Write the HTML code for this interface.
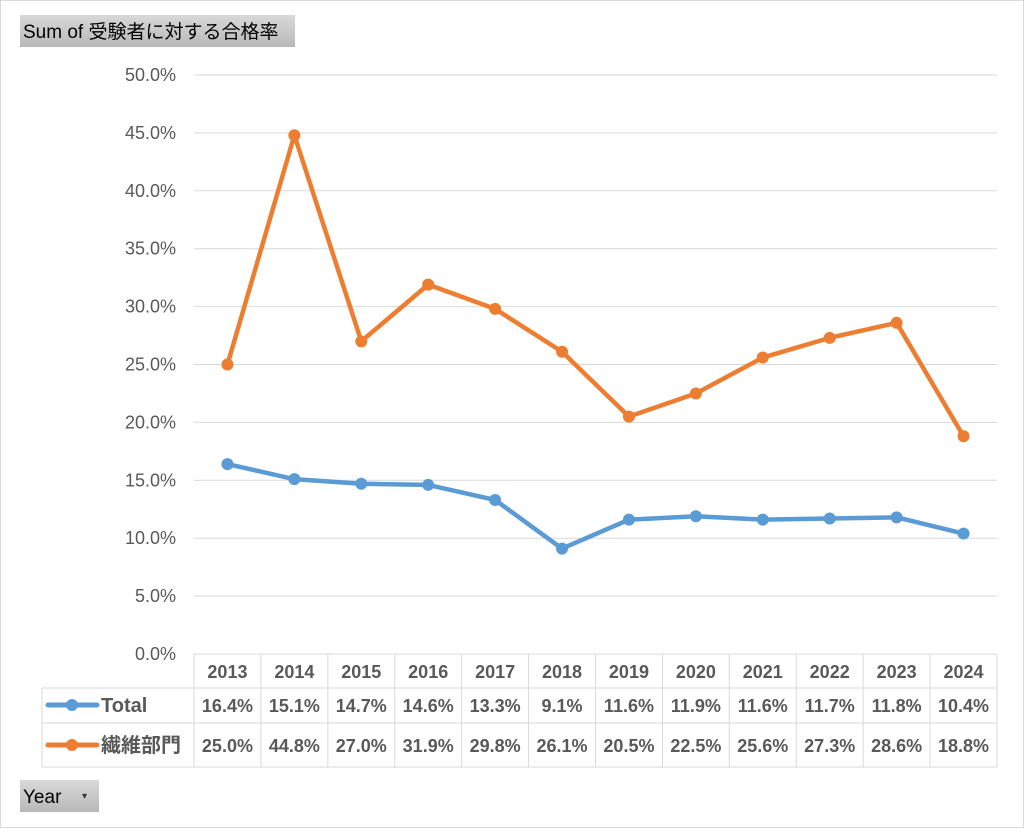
<!DOCTYPE html>
<html><head><meta charset="utf-8"><style>
body{margin:0;background:#fff;}
svg text{font-family:"Liberation Sans","Noto Sans CJK JP",sans-serif;}
</style></head><body>
<svg width="1024" height="828" xmlns="http://www.w3.org/2000/svg">
<defs><linearGradient id="g" x1="0" y1="0" x2="0" y2="1"><stop offset="0" stop-color="#d9d9d9"/><stop offset="1" stop-color="#b8b8b8"/></linearGradient></defs>
<rect x="0.5" y="0.5" width="1023" height="827" fill="#fff" stroke="#d9d9d9"/>
<g><rect x="20" y="15" width="275" height="32" fill="url(#g)"/><text x="23" y="38" font-size="19" fill="#000">Sum of 受験者に対する合格率</text></g>
<g><rect x="20" y="780" width="79" height="32" fill="url(#g)"/><text x="23" y="803" font-size="19" fill="#000">Year</text><text x="82" y="799" font-size="10" fill="#333">▾</text></g>
<g id="grid"></g><g id="tbl"></g><g id="series"></g>
</svg>
<script>
const years=["2013","2014","2015","2016","2017","2018","2019","2020","2021","2022","2023","2024"];
const totalVals=[16.4,15.1,14.7,14.6,13.3,9.1,11.6,11.9,11.6,11.7,11.8,10.4];
const textileVals=[25.0,44.8,27.0,31.9,29.8,26.1,20.5,22.5,25.6,27.3,28.6,18.8];
const yTicks=[0,5,10,15,20,25,30,35,40,45,50];
const NS="http://www.w3.org/2000/svg";
const x0=194,x1=997,y0=654,y1=75,cw=(x1-x0)/years.length;
const X=i=>x0+cw*(i+0.5), Y=v=>y0-(v/50)*(y0-y1);
function mk(t,a,p){const e=document.createElementNS(NS,t);for(const k in a)e.setAttribute(k,a[k]);p.appendChild(e);return e;}
const grid=document.getElementById('grid'),tbl=document.getElementById('tbl'),ser=document.getElementById('series');
yTicks.forEach(v=>{
 if(v>0){const l=mk('line',{x1:x0,x2:x1,y1:Y(v),y2:Y(v),stroke:'#d9d9d9','stroke-width':1},grid);
 
 }
 const t=mk('text',{x:176,y:Y(v)+6,'text-anchor':'end','font-size':18,fill:'#595959'},grid);t.textContent=v.toFixed(1)+'%';
 
 
});
const lc='#d9d9d9';
const rows=[688,723,767];
mk('line',{x1:x0,x2:x1,y1:y0,y2:y0,stroke:lc},tbl);
rows.forEach(r=>mk('line',{x1:42,x2:x1,y1:r,y2:r,stroke:lc},tbl));
for(let i=0;i<=years.length;i++){const x=x0+cw*i;mk('line',{x1:x,x2:x,y1:y0,y2:767,stroke:lc},tbl);}
mk('line',{x1:42,x2:42,y1:688,y2:767,stroke:lc},tbl);
years.forEach((y,i)=>{
 const t=mk('text',{x:X(i),y:678,'text-anchor':'middle','font-size':18,'font-weight':'bold',fill:'#595959'},tbl);t.textContent=y;
 
 
 const a=mk('text',{x:X(i),y:712,'text-anchor':'middle','font-size':18,'font-weight':'bold',fill:'#595959'},tbl);a.textContent=totalVals[i].toFixed(1)+'%';
 
 
 const b=mk('text',{x:X(i),y:752,'text-anchor':'middle','font-size':18,'font-weight':'bold',fill:'#595959'},tbl);b.textContent=textileVals[i].toFixed(1)+'%';
 
 
});
[['Total','#5b9bd5',705,'legend-total'],['繊維部門','#ed7d31',745,'legend-textile']].forEach(([n,c,yy,dn])=>{
 const g=mk('g',{},tbl);
 
 
 mk('line',{x1:48,x2:97,y1:yy,y2:yy,stroke:c,'stroke-width':5,'stroke-linecap':'round'},g);
 mk('circle',{cx:72,cy:yy,r:6,fill:c},g);
 const t=mk('text',{x:101,y:yy+7,'font-size':20,'font-weight':'bold',fill:'#595959'},g);t.textContent=n;
});
[[totalVals,'#5b9bd5','series-total'],[textileVals,'#ed7d31','series-textile']].forEach(([vals,c,dn])=>{
 const g=mk('g',{},ser);
 
 
 const p=mk('polyline',{points:vals.map((v,i)=>X(i)+','+Y(v)).join(' '),fill:'none',stroke:c,'stroke-width':4.5,'stroke-linejoin':'round'},g);
 
 
 vals.forEach((v,i)=>{const m=mk('circle',{cx:X(i),cy:Y(v),r:6,fill:c},g);
 
 });
});
</script>
</body></html>
